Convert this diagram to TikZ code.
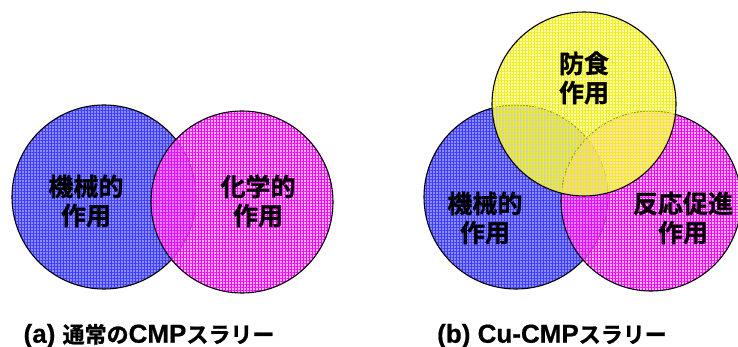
\documentclass[tikz,border=0pt]{standalone}
\usepackage{fontspec}
\usetikzlibrary{patterns.meta}
\newfontfamily\jpb{Noto Sans CJK JP Bold}[FakeBold=1.2]
\newfontfamily\latb{Liberation Sans Bold}[FakeBold=0.6]
\definecolor{bluefill}{RGB}{140,140,255}
\definecolor{bluegrid}{RGB}{60,60,250}
\definecolor{pinkfill}{RGB}{255,140,255}
\definecolor{pinkgrid}{RGB}{250,0,250}
\definecolor{yelfill}{RGB}{255,255,140}
\definecolor{yelgrid}{RGB}{240,240,20}
\newcommand\vcirc[5]{%
  \fill[#3, fill opacity=#5] #1 circle[radius=#2];
  \fill[pattern={Hatch[distance=3pt, angle=0, line width=0.6pt]}, pattern color=#4, fill opacity=#5] #1 circle[radius=#2];
  \draw[line width=1.1pt, black] #1 circle[radius=#2];
}
\tikzset{
  lbl/.style={font=\jpb\fontsize{25}{29}\selectfont, align=center, inner sep=0pt, text=black},
  capt/.style={inner sep=0pt, anchor=center, text=black}
}
\begin{document}
\begin{tikzpicture}[x=1pt,y=-1pt]
\useasboundingbox (0,0) rectangle (738,347);
\clip (0,0) rectangle (738,347);
% panel (a)
\vcirc{(104,197)}{92pt}{bluefill}{bluegrid}{1}
\vcirc{(242,202)}{91pt}{pinkfill}{pinkgrid}{0.65}
% panel (b)
\vcirc{(516,197)}{92pt}{bluefill}{bluegrid}{1}
\vcirc{(651,201)}{90pt}{pinkfill}{pinkgrid}{0.65}
\vcirc{(584,104)}{92pt}{yelfill}{yelgrid}{0.6}
% labels
\node[lbl] (mechA) at (86,201) {機械的\\作用};
\node[lbl] (chemA) at (258,201) {化学的\\作用};
\node[lbl] (corr) at (584,78) {防食\\作用};
\node[lbl] (mechB) at (485,218) {機械的\\作用};
\node[lbl] (react) at (683,218) {反応促進\\作用};
% captions
\node[capt] (capA) at (149,336) {{\latb\fontsize{26}{30}\selectfont (a) }{\jpb\fontsize{22}{30}\selectfont 通常の}{\latb\fontsize{26}{30}\selectfont CMP}{\jpb\fontsize{22}{30}\selectfont スラリー}};
\node[capt] (capB) at (552,336) {{\latb\fontsize{26}{30}\selectfont (b) Cu-CMP}{\jpb\fontsize{22}{30}\selectfont スラリー}};
\end{tikzpicture}
\end{document}
